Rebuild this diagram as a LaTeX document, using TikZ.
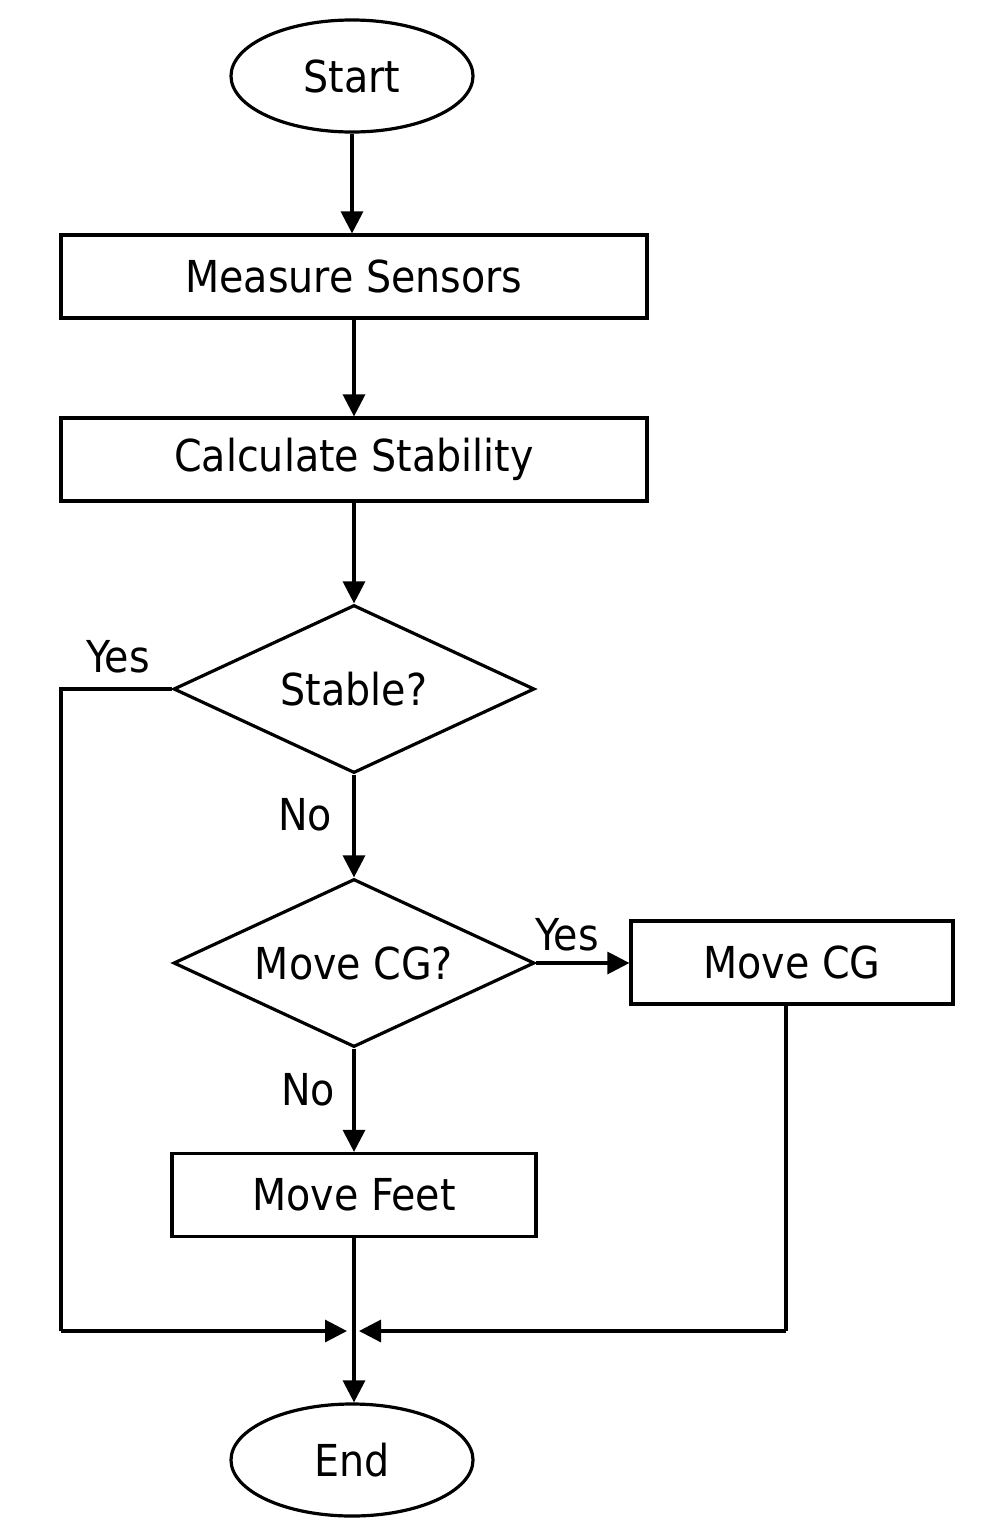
\documentclass[tikz,border=0pt]{standalone}
\usepackage{fontspec}
\setmainfont{DejaVu Sans Condensed}
\usetikzlibrary{arrows.meta,shapes.geometric}
\begin{document}
\begin{tikzpicture}[x=1pt,y=-1pt,
  every node/.style={font=\fontsize{44}{50}\selectfont, inner sep=0pt},
  box/.style={draw, line width=3.2pt, minimum height=83pt},
  term/.style={draw, ellipse, line width=3.2pt, minimum width=242pt, minimum height=112pt},
  dec/.style={draw, diamond, line width=3.2pt, minimum width=361pt, minimum height=168pt, aspect=2.15},
  conn/.style={line width=3.2pt},
  arr/.style={conn, -{Triangle[length=22pt,width=22pt]}},
  lbl/.style={}]
\useasboundingbox (0,0) rectangle (990,1540);
\node[term] (start) at (352,76) {Start};
\node[box, minimum width=586pt] (meas) at (354,276.5) {Measure Sensors};
\node[box, minimum width=586pt] (calc) at (354,459.5) {Calculate Stability};
\node[dec] (stable) at (354,689) {Stable?};
\node[dec] (movecgq) at (354,963) {Move CG?};
\node[box, minimum width=322pt] (movecg) at (792,962.5) {Move CG};
\node[box, minimum width=364pt] (movefeet) at (354,1195) {Move Feet};
\node[term] (end) at (352,1460) {End};
\coordinate (join) at (354,1331);
\coordinate (lc) at (61,689);
\coordinate (lb) at (61,1331);
\coordinate (rc) at (786,1331);
\coordinate (rtop) at (786,1004);
\coordinate (jl) at (347,1331);
\coordinate (jr) at (359,1331);

\draw[arr] (start.south) -- (start.south |- meas.north);
\draw[arr] (meas.south) -- (calc.north);
\draw[arr] (calc.south) -- (stable.north);
\draw[arr] (stable.south) -- (movecgq.north);
\draw[arr] (movecgq.east) -- (movecg.west |- movecgq.east);
\draw[arr] (movecgq.south) -- (movefeet.north);
\draw[arr] (movefeet.south) -- (end.north -| movefeet.south);
\draw[conn] (stable.west) -- (lc) -- (lb);
\draw[arr] (lb) -- (jl);
\draw[conn] (rtop) -- (rc);
\draw[arr] (rc) -- (jr);

\node[lbl] (y1) at (118,657) {Yes};
\node[lbl] (n1) at (305,815) {No};
\node[lbl] (y2) at (567,935) {Yes};
\node[lbl] (n2) at (308,1090) {No};
\end{tikzpicture}
\end{document}
